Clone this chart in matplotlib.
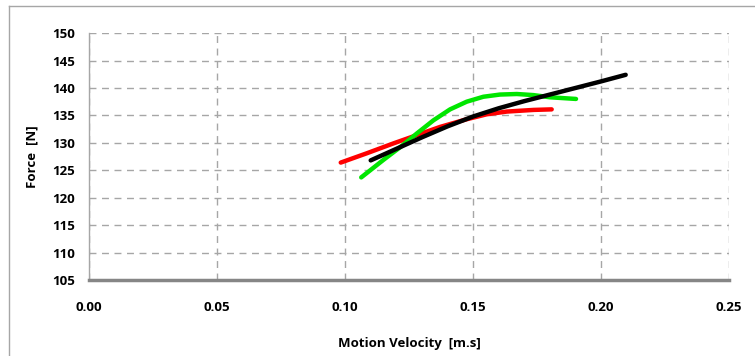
import matplotlib.pyplot as plt
from matplotlib.lines import Line2D

plt.rcParams['font.family'] = ['Open Sans', 'DejaVu Sans']

# curves
red_v = [0.0983, 0.1085, 0.1189, 0.128, 0.1371, 0.1475, 0.1553, 0.1632, 0.1736, 0.1807]
red_f = [126.4, 128.1, 129.9, 131.4, 132.9, 134.3, 135.2, 135.7, 136.0, 136.1]

green_v = [0.1063, 0.115, 0.1215, 0.128, 0.1345, 0.141, 0.1475, 0.154, 0.1605,
           0.1671, 0.1736, 0.1801, 0.1902]
green_f = [123.7, 126.9, 129.2, 131.7, 134.1, 136.1, 137.5, 138.4, 138.8,
           138.9, 138.7, 138.3, 138.0]

black_v = [0.11, 0.12, 0.13, 0.14, 0.15, 0.16, 0.17, 0.18, 0.19, 0.20, 0.2096]
black_f = [126.8, 128.9, 131.0, 133.0, 134.8, 136.3, 137.6, 138.8, 140.0, 141.2, 142.4]

x_ticks = [0.00, 0.05, 0.10, 0.15, 0.20, 0.25]
y_ticks = [105, 110, 115, 120, 125, 130, 135, 140, 145, 150]

fig = plt.figure(figsize=(7.55, 3.56), dpi=100)
ax = fig.add_axes([0.118, 0.2135, 0.8477, 0.6935])

ax.plot(red_v, red_f, color='#ff0000', lw=3.2, solid_capstyle='round', solid_joinstyle='round')
ax.plot(green_v, green_f, color='#00e600', lw=3.2, solid_capstyle='round', solid_joinstyle='round')
ax.plot(black_v, black_f, color='black', lw=3.2, solid_capstyle='round', solid_joinstyle='round')

ax.set_xlim(0, 0.25)
ax.set_ylim(105, 150)
ax.set_xticks(x_ticks)
ax.set_yticks(y_ticks)
ax.set_xticklabels(['%.2f' % v for v in x_ticks], fontweight='bold', fontsize=9.5)
ax.set_yticklabels([str(v) for v in y_ticks], fontweight='bold', fontsize=9.5)
ax.tick_params(length=0)
ax.tick_params(axis='x', pad=15)
ax.tick_params(axis='y', pad=10)

ax.grid(True, color='#a6a6a6', ls=(0, (5, 4)), lw=1)
ax.set_axisbelow(True)
for s in ['top', 'right']:
    ax.spines[s].set_visible(False)
ax.spines['left'].set_color('#a6a6a6')
ax.spines['left'].set_linewidth(1)
ax.spines['bottom'].set_color('#868686')
ax.spines['bottom'].set_linewidth(2.5)

ax.set_xlabel('Motion Velocity  [m.s]', fontweight='bold', fontsize=9.5, labelpad=17)
ax.set_ylabel('Force  [N]', fontweight='bold', fontsize=9.5, labelpad=10)

# outer chart frame
fig.add_artist(Line2D([9 / 755, 9 / 755], [0, 1 - 6 / 356], color='#a6a6a6', lw=1))
fig.add_artist(Line2D([9 / 755, 1], [1 - 6 / 356, 1 - 6 / 356], color='#a6a6a6', lw=1))

fig.savefig('out.png', dpi=100)
